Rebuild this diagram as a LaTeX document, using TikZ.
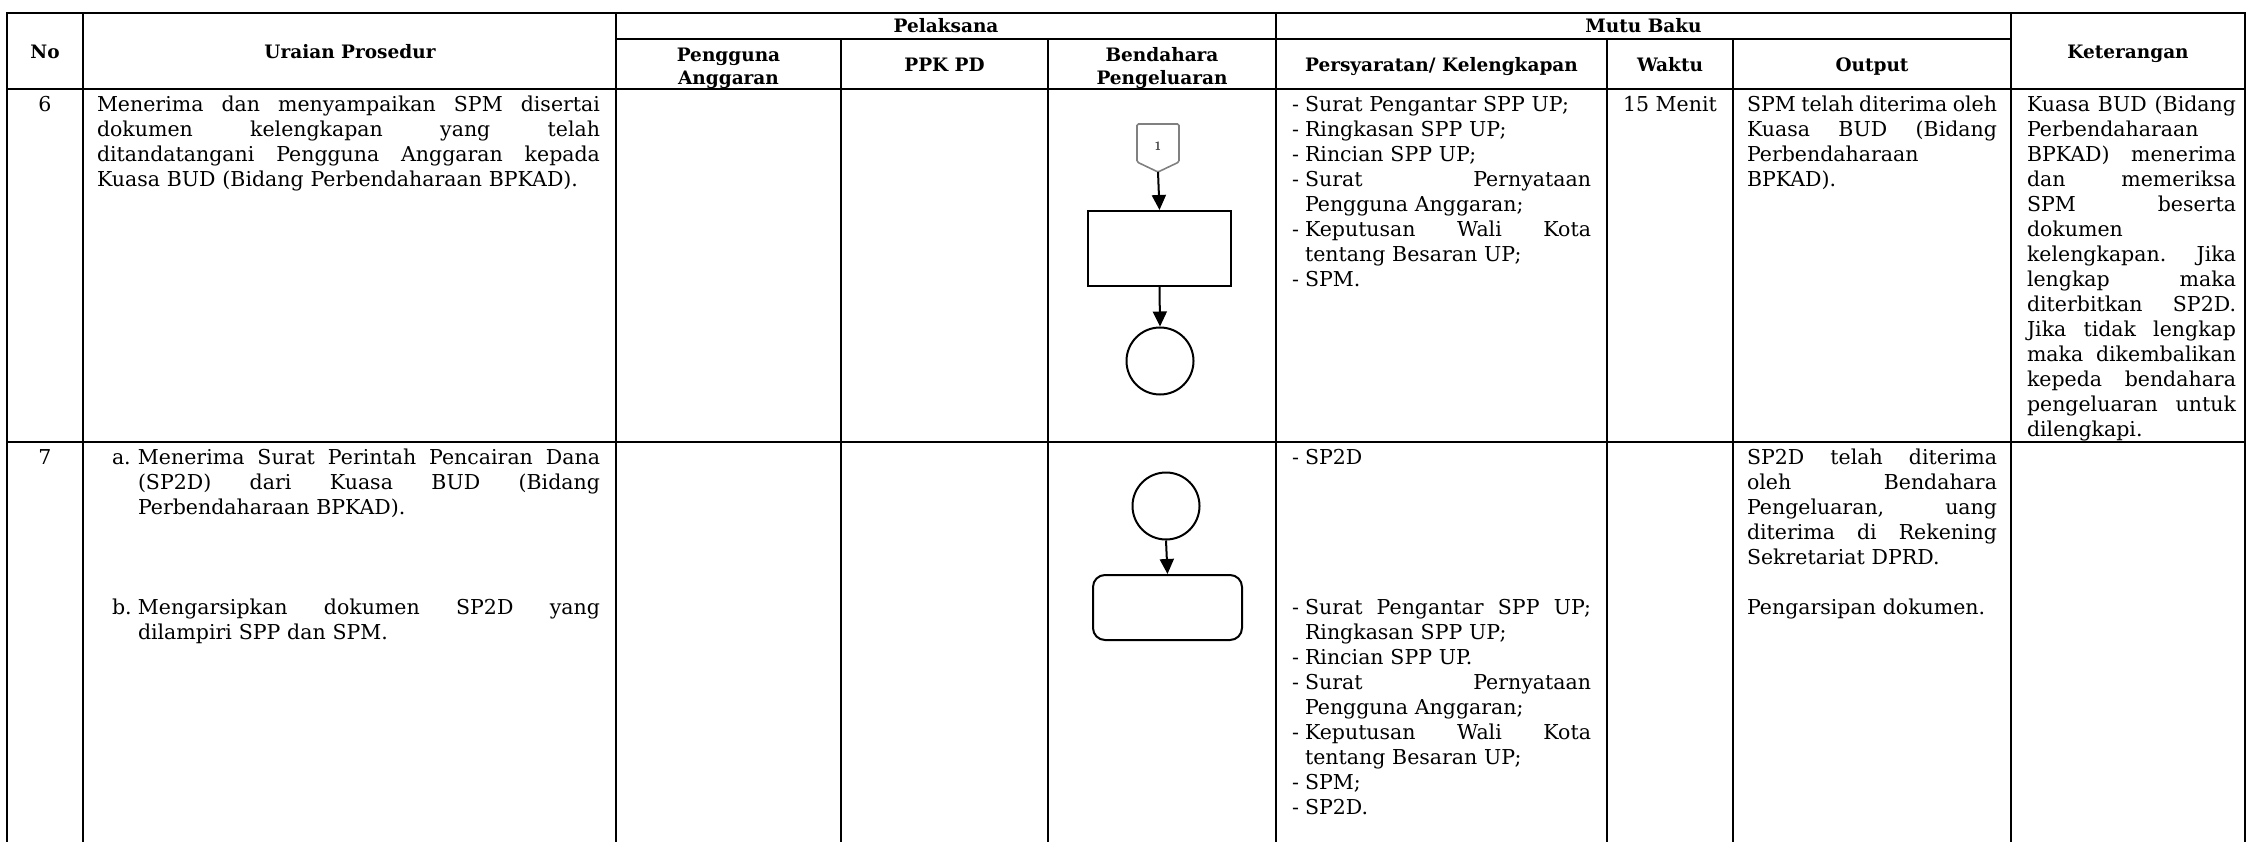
\documentclass[tikz,border=0pt]{standalone}
\usepackage{fontspec}
\setmainfont{DejaVu Serif}
\usetikzlibrary{arrows.meta}
\setlength{\parindent}{0pt}
\newcommand{\cJ}[1]{\makebox[\hsize][s]{\spaceskip=0pt\xspaceskip=0pt\relax #1}}
\newcommand{\cLJ}[3]{\makebox[#1][l]{#2}\makebox[\dimexpr\hsize-#1\relax][s]{\spaceskip=0pt\xspaceskip=0pt\relax #3}}
\newcommand{\cLL}[3]{\makebox[#1][l]{#2}#3}
\newcommand{\cIN}[2]{\hspace*{#1}#2}
\newcommand{\cIJ}[2]{\hspace*{#1}\makebox[\dimexpr\hsize-#1\relax][s]{\spaceskip=0pt\xspaceskip=0pt\relax #2}}
\newcommand{\cfs}{\rule{0pt}{18pt}}
\tikzset{
  tl/.style={line width=2.6pt, line cap=rect},
  cell/.style={anchor=north west, inner sep=0pt, outer sep=0pt, align=left,
    font=\fontsize{20.5}{25}\selectfont},
  txt/.style={inner sep=0pt, font=\fontsize{20.5}{25}\selectfont},
  hdr/.style={inner sep=0pt, align=center, font=\bfseries\fontsize{18.5}{23}\selectfont},
  shp/.style={draw, line width=2pt},
  arr/.style={line width=2pt, -{Triangle[width=14pt,length=15pt]}},
  offc/.style={draw=black!50, line width=1.6pt, rounded corners=1.5pt},
  lbl/.style={inner sep=0pt, text=black!70, font=\sffamily\bfseries\fontsize{12}{12}\selectfont}
}
\begin{document}
\begin{tikzpicture}[x=1pt,y=-1pt]
\useasboundingbox (0,0) rectangle (2248,842);
% table grid
\draw[tl] (7,13) -- (2245,13);
\draw[tl] (616,39) -- (2011,39);
\draw[tl] (7,89) -- (2245,89);
\draw[tl] (7,442) -- (2245,442);
\foreach \x in {7,83,616,1276,2011,2245} \draw[tl] (\x,13) -- (\x,842);
\foreach \x in {841,1048,1607,1733} \draw[tl] (\x,39) -- (\x,842);
% headers
\node[hdr, anchor=base] (hNo) at (45,59) {No};
\node[hdr, anchor=base] (hUr) at (350,59) {Uraian Prosedur};
\node[hdr, anchor=base] (hPel) at (946,33) {Pelaksana};
\node[hdr] (hPA) at (728.5,68) {Pengguna\\Anggaran};
\node[hdr, anchor=base] (hPPK) at (944.5,71.5) {PPK PD};
\node[hdr] (hBP) at (1162,68) {Bendahara\\Pengeluaran};
\node[hdr, anchor=base] (hMB) at (1643.5,33) {Mutu Baku};
\node[hdr, anchor=base] (hPK) at (1441.5,71.5) {Persyaratan/ Kelengkapan};
\node[hdr, anchor=base] (hW) at (1670,71.5) {Waktu};
\node[hdr, anchor=base] (hO) at (1872,71.5) {Output};
\node[hdr, anchor=base] (hK) at (2128,59) {Keterangan};
% row 6
\node[txt, anchor=base] (no6) at (45,112) {6};
\node[cell, text width=503pt] (u6) at (97,94) {\cfs\cJ{Menerima dan menyampaikan SPM disertai}\\
\cJ{dokumen kelengkapan yang telah}\\
\cJ{ditandatangani Pengguna Anggaran kepada}\\
Kuasa BUD (Bidang Perbendaharaan BPKAD).};
\node[cell, text width=299pt] (p6t) at (1292,94) {\cfs\cLL{13pt}{-}{Surat Pengantar SPP UP;}\\
\cLL{13pt}{-}{Ringkasan SPP UP;}\\
\cLL{13pt}{-}{Rincian SPP UP;}\\
\cLJ{13pt}{-}{Surat Pernyataan}\\
\cIN{13pt}{Pengguna Anggaran;}\\
\cLJ{13pt}{-}{Keputusan Wali Kota}\\
\cIN{13pt}{tentang Besaran UP;}\\
\cLL{13pt}{-}{SPM.}};
\node[txt, anchor=base] (w6) at (1670,112) {15 Menit};
\node[cell, text width=250pt] (o6) at (1747,94) {\cfs\cJ{SPM telah diterima oleh}\\
\cJ{Kuasa BUD (Bidang}\\
Perbendaharaan\\
BPKAD).};
\node[cell, text width=209pt] (k6) at (2027,94) {\cfs\cJ{Kuasa BUD (Bidang}\\
Perbendaharaan\\
\cJ{BPKAD) menerima}\\
\cJ{dan memeriksa}\\
\cJ{SPM beserta}\\
dokumen\\
\cJ{kelengkapan. Jika}\\
\cJ{lengkap maka}\\
\cJ{diterbitkan SP2D.}\\
\cJ{Jika tidak lengkap}\\
\cJ{maka dikembalikan}\\
\cJ{kepeda bendahara}\\
\cJ{pengeluaran untuk}\\
dilengkapi.};
% flow row 6
\draw[offc] (1137,124) -- (1179,124) -- (1179,162) -- (1158,172) -- (1137,162) -- cycle;
\node[lbl] (n1) at (1158,146) {1};
\coordinate (p6) at (1158,172);
\node[shp, minimum width=143pt, minimum height=75pt, inner sep=0pt] (r6) at (1159.5,248.5) {};
\node[shp, circle, minimum size=67pt, inner sep=0pt] (c6) at (1160,361) {};
\draw[arr] (p6) -- (r6.north);
\draw[arr] (r6.south) -- (c6.north);
% row 7
\node[txt, anchor=base] (no7) at (45,464) {7};
\node[cell, text width=488pt] (u7) at (112,446) {\cfs\cLJ{26pt}{a.}{Menerima Surat Perintah Pencairan Dana}\\
\cIJ{26pt}{(SP2D) dari Kuasa BUD (Bidang}\\
\cIN{26pt}{Perbendaharaan BPKAD).}\\[75pt]
\cLJ{26pt}{b.}{Mengarsipkan dokumen SP2D yang}\\
\cIN{26pt}{dilampiri SPP dan SPM.}};
\node[cell, text width=299pt] (p7t) at (1292,446) {\cfs\cLL{13pt}{-}{SP2D}\\[125pt]
\cLJ{13pt}{-}{Surat Pengantar SPP UP;}\\
\cIN{13pt}{Ringkasan SPP UP;}\\
\cLL{13pt}{-}{Rincian SPP UP.}\\
\cLJ{13pt}{-}{Surat Pernyataan}\\
\cIN{13pt}{Pengguna Anggaran;}\\
\cLJ{13pt}{-}{Keputusan Wali Kota}\\
\cIN{13pt}{tentang Besaran UP;}\\
\cLL{13pt}{-}{SPM;}\\
\cLL{13pt}{-}{SP2D.}};
\node[cell, text width=250pt] (o7) at (1747,446) {\cfs\cJ{SP2D telah diterima}\\
\cJ{oleh Bendahara}\\
\cJ{Pengeluaran, uang}\\
\cJ{diterima di Rekening}\\
Sekretariat DPRD.\\[25pt]
Pengarsipan dokumen.};
% flow row 7
\node[shp, circle, minimum size=67pt, inner sep=0pt] (c7) at (1166,506) {};
\node[shp, rounded corners=12pt, minimum width=149pt, minimum height=65pt, inner sep=0pt] (r7) at (1167.5,607.5) {};
\draw[arr] (c7.south) -- (r7.north);
\end{tikzpicture}
\end{document}
